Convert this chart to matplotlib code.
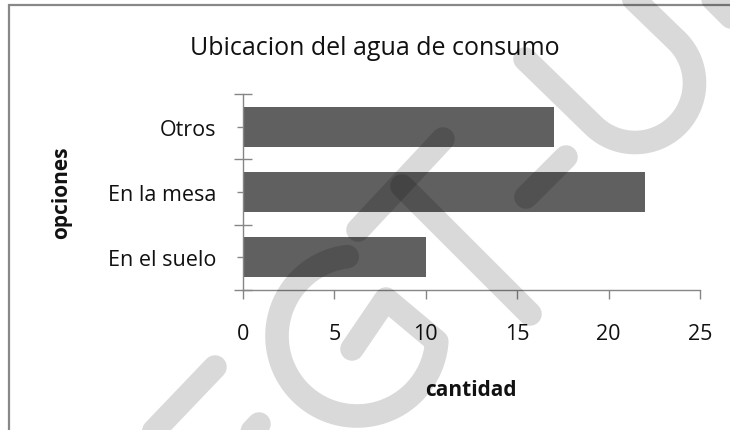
import numpy as np
import matplotlib
matplotlib.use("Agg")
import matplotlib.pyplot as plt

# ---- data ----
categories = ["En el suelo", "En la mesa", "Otros"]
values = [10, 22, 17]
x_ticks = [0, 5, 10, 15, 20, 25]
title_text = "Ubicacion del agua de consumo"
x_label = "cantidad"
y_label = "opciones"

plt.rcParams['font.family'] = ['Open Sans', 'DejaVu Sans']

W, H = 730, 431
fig = plt.figure(figsize=(W / 100, H / 100), dpi=100)
fig.patch.set_facecolor('white')


def fx(px):
    return px / W


def fy(py):
    return 1 - py / H


axis_col = '#868686'
ax = fig.add_axes([fx(243), fy(291), (700 - 243) / W, (291 - 95) / H])
ypos = np.arange(len(categories))
ax.barh(ypos, values, height=0.61, color='#606060', zorder=2)
ax.set_xlim(0, 25)
ax.set_ylim(-0.5, len(categories) - 0.5)
ax.set_xticks(x_ticks)
ax.set_xticklabels([str(v) for v in x_ticks])
ax.set_yticks(np.arange(-0.5, len(categories), 1.0))
ax.set_yticks(ypos, minor=True)
ax.set_yticklabels(categories, minor=True)
ax.tick_params(axis='y', which='major', direction='inout', length=13, width=1,
               color=axis_col, labelleft=False)
ax.tick_params(axis='y', which='minor', direction='out', length=4.5, width=1,
               color=axis_col, pad=15, labelsize=15.5, labelcolor='#111111')
ax.tick_params(axis='x', direction='out', length=6.5, width=1, color=axis_col,
               pad=17, labelsize=15.5, labelcolor='#111111')
for s in ['top', 'right']:
    ax.spines[s].set_visible(False)
for s in ['left', 'bottom']:
    ax.spines[s].set_color(axis_col)
    ax.spines[s].set_linewidth(1)
ax.set_facecolor('none')

# titles / labels
fig.text(fx(375), fy(55), title_text, ha='center', va='baseline', fontsize=18, color='#111111')
fig.text(fx(471), fy(396), x_label, ha='center', va='baseline', fontsize=15, fontweight='bold', color='#111111')
fig.text(fx(62), fy(193), y_label, ha='center', va='center', rotation=90, fontsize=15, fontweight='bold', color='#111111')

# ---- decoration overlay (frame + watermark) in pixel coordinates ----
ov = fig.add_axes([0, 0, 1, 1], zorder=10)
ov.set_xlim(0, W)
ov.set_ylim(H, 0)
ov.axis('off')
ov.patch.set_visible(False)

# frame
ov.plot([9, 9, W + 5], [H + 5, 6, 6], color='#888888', lw=1.6, solid_joinstyle='miter')

wm = dict(color='black', alpha=0.15, lw=17, solid_capstyle='round', solid_joinstyle='round')
# U
c = np.array([635.0, 84.0])
r = 59.5
th = np.deg2rad(np.linspace(135, -45, 60))
ux = np.concatenate([[525], c[0] + r * np.cos(th), [633 - 20]])
uy = np.concatenate([[60], c[1] + r * np.sin(th), [-20]])
ov.plot(ux, uy, **wm)
ov.plot([708, 740], [-5, 27], **wm)
# hyphen
ov.plot([566, 526], [158, 198], **wm)
# T
ov.plot([358, 443], [231, 140], **wm)
ov.plot([402, 530], [187, 315], **wm)
# G
gc = np.array([357.0, 337.0])
gr = 80
gth = np.deg2rad(np.linspace(263, 4, 80))
gx = np.concatenate([gc[0] + gr * np.cos(gth), [386, 352]])
gy = np.concatenate([gc[1] + gr * np.sin(gth), [300, 350]])
ov.plot(gx, gy, **wm)
# E
ov.plot([215, 150], [368, 436], **wm)
ov.plot([259, 240], [425, 445], **wm)

fig.savefig("out.png", dpi=100)
